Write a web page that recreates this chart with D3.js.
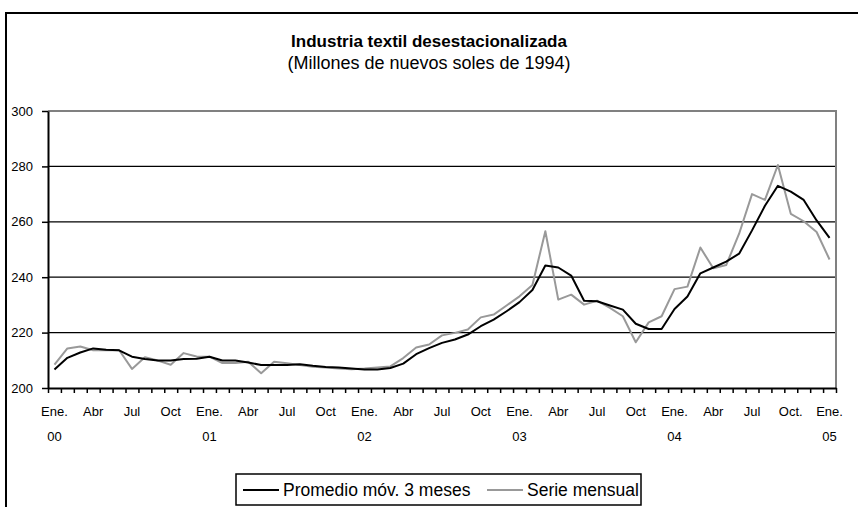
<!DOCTYPE html>
<html>
<head>
<meta charset="utf-8">
<script src="https://cdn.jsdelivr.net/npm/d3@7"></script>
<style>
  html, body { margin: 0; padding: 0; background: #fff; }
  svg { display: block; font-family: "Liberation Sans", Arial, sans-serif; }
</style>
</head>
<body>
<svg id="chart" width="858" height="507"></svg>
<script>
// ---- Data ----
const title = "Industria textil desestacionalizada";
const subtitle = "(Millones de nuevos soles de 1994)";
const seriesNames = ["Promedio móv. 3 meses", "Serie mensual"];

// Monthly, Ene. 2000 .. Ene. 2005 (61 months)
const serieMensual = [
  208.4, 214.3, 215.0, 213.6, 213.6, 213.7, 206.9, 211.1, 209.9, 208.4, 212.6, 211.4,
  211.3, 209.0, 209.0, 209.5, 205.3, 209.5, 208.9, 208.3, 207.7, 207.4, 207.0, 206.8,
  207.0, 207.4, 207.8, 210.8, 214.6, 215.7, 219.0, 219.9, 221.1, 225.5, 226.5, 229.8,
  233.1, 237.2, 256.6, 231.9, 233.7, 230.1, 231.5, 228.9, 225.9, 216.5, 223.7, 225.9,
  235.7, 236.6, 250.7, 243.2, 244.4, 255.7, 270.0, 267.9, 280.5, 262.9, 260.2, 256.3,
  246.4
];
const promedio3 = [
  206.7, 210.9, 212.8, 214.3, 213.8, 213.6, 211.3, 210.5, 209.9, 209.9, 210.5, 210.6,
  211.3, 209.9, 209.9, 209.2, 208.3, 208.3, 208.3, 208.6, 208.0, 207.6, 207.4, 207.0,
  206.7, 206.7, 207.2, 208.8, 212.2, 214.4, 216.3, 217.5, 219.3, 222.3, 224.7, 227.7,
  231.0, 235.4, 244.2, 243.5, 240.6, 231.5, 231.3, 229.8, 228.3, 223.2, 221.3, 221.3,
  228.5, 233.0, 241.4, 243.5, 245.6, 248.5, 256.9, 265.8, 273.0, 270.9, 267.9, 260.5,
  254.2
];
// Tick labels (every 3 months)
const monthTickLabels = [
  "Ene.", "Abr", "Jul", "Oct",
  "Ene.", "Abr", "Jul", "Oct",
  "Ene.", "Abr", "Jul", "Oct",
  "Ene.", "Abr", "Jul", "Oct",
  "Ene.", "Abr", "Jul", "Oct.",
  "Ene."
];
const yearTickLabels = ["00", "01", "02", "03", "04", "05"];
const yTicks = [200, 220, 240, 260, 280, 300];

// ---- Layout ----
const svg = d3.select("#chart");
const L = 48, R = 836, T = 111, B = 388;
const n = serieMensual.length;
const idx = d3.range(n);

const x = d3.scaleBand().domain(idx).range([L, R]).padding(0);
const xc = i => x(i) + x.bandwidth() / 2;
const xb = d3.scaleLinear().domain([0, n]).range([L, R]);
const y = d3.scaleLinear().domain([200, 300]).range([B, T]);

// Outer chart border (cut off at right/bottom)
svg.append("rect")
  .attr("x", 6).attr("y", 13).attr("width", 900).attr("height", 600)
  .attr("fill", "none").attr("stroke", "#000").attr("stroke-width", 2);

// Title
svg.append("text").attr("x", 429).attr("y", 47)
  .attr("text-anchor", "middle").attr("font-weight", "bold").attr("font-size", 17)
  .text(title);
svg.append("text").attr("x", 429).attr("y", 69)
  .attr("text-anchor", "middle").attr("font-size", 18)
  .text(subtitle);

// Gridlines
svg.append("g").selectAll("line")
  .data(yTicks.filter(v => v > 200 && v < 300))
  .join("line")
  .attr("x1", L).attr("x2", R)
  .attr("y1", d => y(d)).attr("y2", d => y(d))
  .attr("stroke", "#000").attr("stroke-width", 1.3);

// Plot area border (top & right, gray)
svg.append("path")
  .attr("d", `M${L},${y(300)}H${R}V${B}`)
  .attr("fill", "none").attr("stroke", "#808080").attr("stroke-width", 2);

// Y axis
const yAxis = svg.append("g").attr("transform", `translate(${L},0)`)
  .call(d3.axisLeft(y).tickValues(yTicks).tickSize(6).tickSizeOuter(0).tickPadding(3).tickFormat(d3.format("d")));
yAxis.select(".domain").attr("stroke", "#000").attr("stroke-width", 2);
yAxis.selectAll(".tick line").attr("stroke", "#000").attr("stroke-width", 1.5);
yAxis.selectAll(".tick text").attr("font-size", 13).attr("fill", "#000")
  .attr("font-family", "'Liberation Sans', Arial, sans-serif").attr("x", -15);

// X axis ticks at category boundaries
const xAxis = svg.append("g").attr("transform", `translate(0,${B})`)
  .call(d3.axisBottom(xb).tickValues(d3.range(n + 1)).tickSize(5).tickSizeOuter(0).tickFormat(""));
xAxis.select(".domain").attr("stroke", "#000").attr("stroke-width", 2);
xAxis.selectAll(".tick line").attr("stroke", "#000").attr("stroke-width", 1.5);

// X labels
const monthIdx = idx.filter(i => i % 3 === 0);
svg.append("g").selectAll("text")
  .data(monthIdx)
  .join("text")
  .attr("x", d => xc(d)).attr("y", 416)
  .attr("text-anchor", "middle").attr("font-size", 13)
  .text((d, k) => monthTickLabels[k]);
const yearIdx = idx.filter(i => i % 12 === 0);
svg.append("g").selectAll("text")
  .data(yearIdx)
  .join("text")
  .attr("x", d => xc(d)).attr("y", 441)
  .attr("text-anchor", "middle").attr("font-size", 13)
  .text((d, k) => yearTickLabels[k]);

// Lines
const line = d3.line().x((d, i) => xc(i)).y(d => y(d));
svg.append("path").datum(serieMensual)
  .attr("d", line).attr("fill", "none")
  .attr("stroke", "#999999").attr("stroke-width", 2).attr("stroke-linejoin", "round");
svg.append("path").datum(promedio3)
  .attr("d", line).attr("fill", "none")
  .attr("stroke", "#000").attr("stroke-width", 2).attr("stroke-linejoin", "round");

// Legend
const lg = svg.append("g");
lg.append("rect").attr("x", 236).attr("y", 474).attr("width", 405).attr("height", 31)
  .attr("fill", "#fff").attr("stroke", "#000").attr("stroke-width", 1.5);
const legendItems = [
  { name: seriesNames[0], color: "#000", x0: 243 },
  { name: seriesNames[1], color: "#999999", x0: 487 }
];
legendItems.forEach(it => {
  lg.append("line").attr("x1", it.x0).attr("x2", it.x0 + 36)
    .attr("y1", 490).attr("y2", 490)
    .attr("stroke", it.color).attr("stroke-width", 2);
  lg.append("text").attr("x", it.x0 + 40).attr("y", 496)
    .attr("font-size", 17.5).text(it.name);
});
</script>
</body>
</html>
